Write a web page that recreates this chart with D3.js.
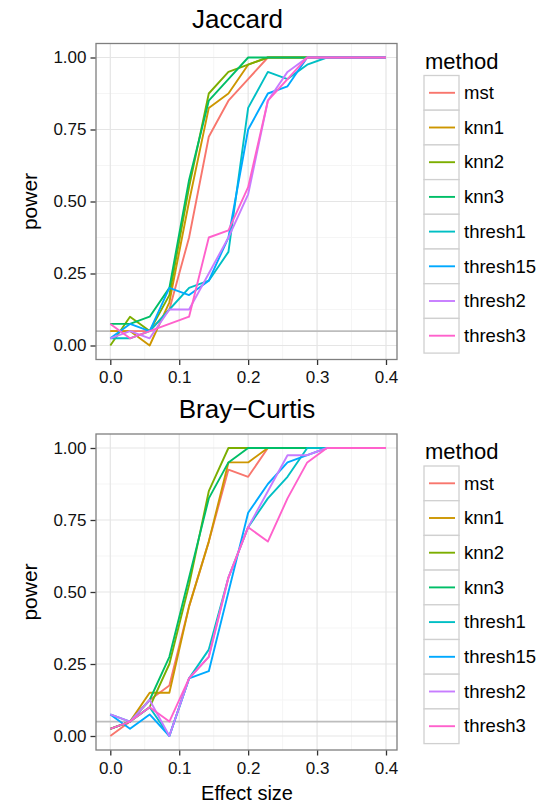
<!DOCTYPE html>
<html>
<head>
<meta charset="utf-8">
<script src="https://cdn.jsdelivr.net/npm/d3@7"></script>
<style>
  body { margin: 0; background: #fff; }
  text { font-family: "Liberation Sans", Arial, sans-serif; }
</style>
</head>
<body>
<div id="graph1"></div>
<script>
let width = 545;
let height = 804;

// effect sizes (x) and methods
let effect = [0, 0.0286, 0.0571, 0.0857, 0.1143, 0.1429, 0.1714, 0.2, 0.2286, 0.2571, 0.2857, 0.3143, 0.3429, 0.3714, 0.4];
let methods = ['mst', 'knn1', 'knn2', 'knn3', 'thresh1', 'thresh15', 'thresh2', 'thresh3'];
let xTicks = [0, 0.1, 0.2, 0.3, 0.4];
let yTicks = [0, 0.25, 0.5, 0.75, 1];

// Jaccard power
let jacMst      = [0.05, 0.05, 0.05, 0.125, 0.375, 0.725, 0.85, 0.925, 1, 1, 1, 1, 1, 1, 1];
let jacKnn1     = [0.05, 0.05, 0, 0.15, 0.5, 0.825, 0.875, 0.975, 1, 1, 1, 1, 1, 1, 1];
let jacKnn2     = [0, 0.1, 0.05, 0.175, 0.55, 0.875, 0.95, 0.975, 1, 1, 1, 1, 1, 1, 1];
let jacKnn3     = [0.075, 0.075, 0.1, 0.2, 0.575, 0.85, 0.925, 1, 1, 1, 1, 1, 1, 1, 1];
let jacThresh1  = [0.025, 0.025, 0.05, 0.125, 0.2, 0.225, 0.325, 0.825, 0.95, 0.925, 0.975, 1, 1, 1, 1];
let jacThresh15 = [0.025, 0.075, 0.05, 0.2, 0.175, 0.225, 0.375, 0.75, 0.875, 0.9, 1, 1, 1, 1, 1];
let jacThresh2  = [0.025, 0.05, 0.025, 0.125, 0.125, 0.25, 0.375, 0.525, 0.85, 0.95, 1, 1, 1, 1, 1];
let jacThresh3  = [0.075, 0.025, 0.05, 0.075, 0.1, 0.375, 0.4, 0.55, 0.85, 0.925, 1, 1, 1, 1, 1];

// Bray-Curtis power
let brayMst      = [0, 0.05, 0.125, 0.175, 0.45, 0.675, 0.925, 0.9, 1, 1, 1, 1, 1, 1, 1];
let brayKnn1     = [0.025, 0.05, 0.15, 0.15, 0.45, 0.675, 0.95, 0.95, 1, 1, 1, 1, 1, 1, 1];
let brayKnn2     = [0.025, 0.05, 0.1, 0.25, 0.525, 0.85, 1, 1, 1, 1, 1, 1, 1, 1, 1];
let brayKnn3     = [0.025, 0.05, 0.125, 0.275, 0.55, 0.825, 0.95, 1, 1, 1, 1, 1, 1, 1, 1];
let brayThresh1  = [0.075, 0.05, 0.1, 0, 0.2, 0.3, 0.55, 0.725, 0.825, 0.9, 1, 1, 1, 1, 1];
let brayThresh15 = [0.075, 0.025, 0.075, 0, 0.2, 0.225, 0.5, 0.775, 0.875, 0.95, 0.975, 1, 1, 1, 1];
let brayThresh2  = [0.075, 0.05, 0.125, 0, 0.2, 0.275, 0.55, 0.725, 0.85, 0.975, 0.975, 1, 1, 1, 1];
let brayThresh3  = [0.025, 0.05, 0.1, 0.05, 0.2, 0.275, 0.55, 0.725, 0.675, 0.825, 0.95, 1, 1, 1, 1];

let refLine = 0.05;

let colors = ['#F8766D', '#CD9600', '#7CAE00', '#00BE67', '#00BFC4', '#00A9FF', '#C77CFF', '#FF61CC'];
let color = d3.scaleOrdinal().domain(methods).range(colors);

let svg = d3.select('#graph1')
    .append('svg')
        .attr('width', width)
        .attr('height', height);

function drawPanel(top, title, titleX, series) {
    let left = 96, right = 397;
    let bottom = top + 316;
    let x = d3.scaleLinear().domain([0, 0.4]).range([110.3, 386]);
    let y = d3.scaleLinear().domain([0, 1]).range([top + 302, top + 14]);

    let g = svg.append('g');

    g.append('rect')
        .attr('x', left).attr('y', top)
        .attr('width', right - left).attr('height', bottom - top)
        .attr('fill', 'white');

    // minor grid
    [0.05, 0.15, 0.25, 0.35].forEach(function(d){
        g.append('line').attr('x1', x(d)).attr('x2', x(d)).attr('y1', top).attr('y2', bottom)
            .attr('stroke', '#f5f5f5').attr('stroke-width', 1);
    });
    [0.125, 0.375, 0.625, 0.875].forEach(function(d){
        g.append('line').attr('x1', left).attr('x2', right).attr('y1', y(d)).attr('y2', y(d))
            .attr('stroke', '#f5f5f5').attr('stroke-width', 1);
    });
    // major grid
    xTicks.forEach(function(d){
        g.append('line').attr('x1', x(d)).attr('x2', x(d)).attr('y1', top).attr('y2', bottom)
            .attr('stroke', '#e5e5e5').attr('stroke-width', 1.2);
    });
    yTicks.forEach(function(d){
        g.append('line').attr('x1', left).attr('x2', right).attr('y1', y(d)).attr('y2', y(d))
            .attr('stroke', '#e5e5e5').attr('stroke-width', 1.2);
    });

    g.append('line')
        .attr('x1', left).attr('x2', right)
        .attr('y1', y(refLine)).attr('y2', y(refLine))
        .attr('stroke', '#bdbdbd').attr('stroke-width', 1.6);

    let line = d3.line()
        .x(function(d, i){ return x(effect[i]); })
        .y(function(d){ return y(d); });

    methods.forEach(function(m, k){
        g.append('path')
            .attr('d', line(series[k]))
            .style('fill', 'none')
            .style('stroke-width', '1.9')
            .style('stroke-linejoin', 'round')
            .attr('stroke', color(m));
    });

    g.append('rect')
        .attr('x', left).attr('y', top)
        .attr('width', right - left).attr('height', bottom - top)
        .attr('fill', 'none').attr('stroke', '#7f7f7f').attr('stroke-width', 1.3);

    let xAxis = d3.axisBottom(x)
        .tickValues(xTicks)
        .tickSize(5)
        .tickPadding(6)
        .tickFormat(d3.format('.1f'));
    let gx = g.append('g')
        .attr('transform', 'translate(0,' + (bottom + 0.5) + ')')
        .call(xAxis);
    gx.select('.domain').remove();
    gx.selectAll('line').attr('stroke', '#333').attr('stroke-width', 1.3);
    gx.selectAll('text').attr('fill', '#111').style('font-size', '17px').style('font-family', '"Liberation Sans", Arial, sans-serif');

    let yAxis = d3.axisLeft(y)
        .tickValues(yTicks)
        .tickSize(5)
        .tickPadding(4)
        .tickFormat(d3.format('.2f'));
    let gy = g.append('g')
        .attr('transform', 'translate(' + (left - 0.5) + ',0)')
        .call(yAxis);
    gy.select('.domain').remove();
    gy.selectAll('line').attr('stroke', '#333').attr('stroke-width', 1.3);
    gy.selectAll('text').attr('fill', '#111').style('font-size', '17px').style('font-family', '"Liberation Sans", Arial, sans-serif');

    g.append('text')
        .attr('x', titleX).attr('y', top - 16)
        .attr('text-anchor', 'middle')
        .style('font-size', '26px')
        .text(title);

    g.append('text')
        .attr('transform', 'translate(37,' + ((top + bottom) / 2) + ') rotate(-90)')
        .attr('text-anchor', 'middle')
        .style('font-size', '21px')
        .text('power');

    // legend
    let lg = g.append('g').attr('transform', 'translate(424,' + (top + 32) + ')');
    lg.append('text')
        .attr('x', 1).attr('y', -7)
        .style('font-size', '22px')
        .text('method');
    methods.forEach(function(m, k){
        let row = lg.append('g').attr('transform', 'translate(0,' + (k * 34.7) + ')');
        row.append('rect')
            .attr('x', 0).attr('y', 0).attr('width', 35).attr('height', 34.7)
            .attr('fill', 'white').attr('stroke', '#d0d0d0').attr('stroke-width', 1.3);
        row.append('line')
            .attr('x1', 5).attr('x2', 31).attr('y1', 17.3).attr('y2', 17.3)
            .attr('stroke', color(m)).attr('stroke-width', 1.9);
        row.append('text')
            .attr('x', 40).attr('y', 23.5)
            .style('font-size', '18.5px')
            .text(m);
    });
}

drawPanel(43.5, 'Jaccard', 237.5,
    [jacMst, jacKnn1, jacKnn2, jacKnn3, jacThresh1, jacThresh15, jacThresh2, jacThresh3]);
drawPanel(434, 'Bray\u2212Curtis', 247,
    [brayMst, brayKnn1, brayKnn2, brayKnn3, brayThresh1, brayThresh15, brayThresh2, brayThresh3]);

svg.append('text')
    .attr('x', 247).attr('y', 800)
    .attr('text-anchor', 'middle')
    .style('font-size', '20px')
    .text('Effect size');
</script>
</body>
</html>
